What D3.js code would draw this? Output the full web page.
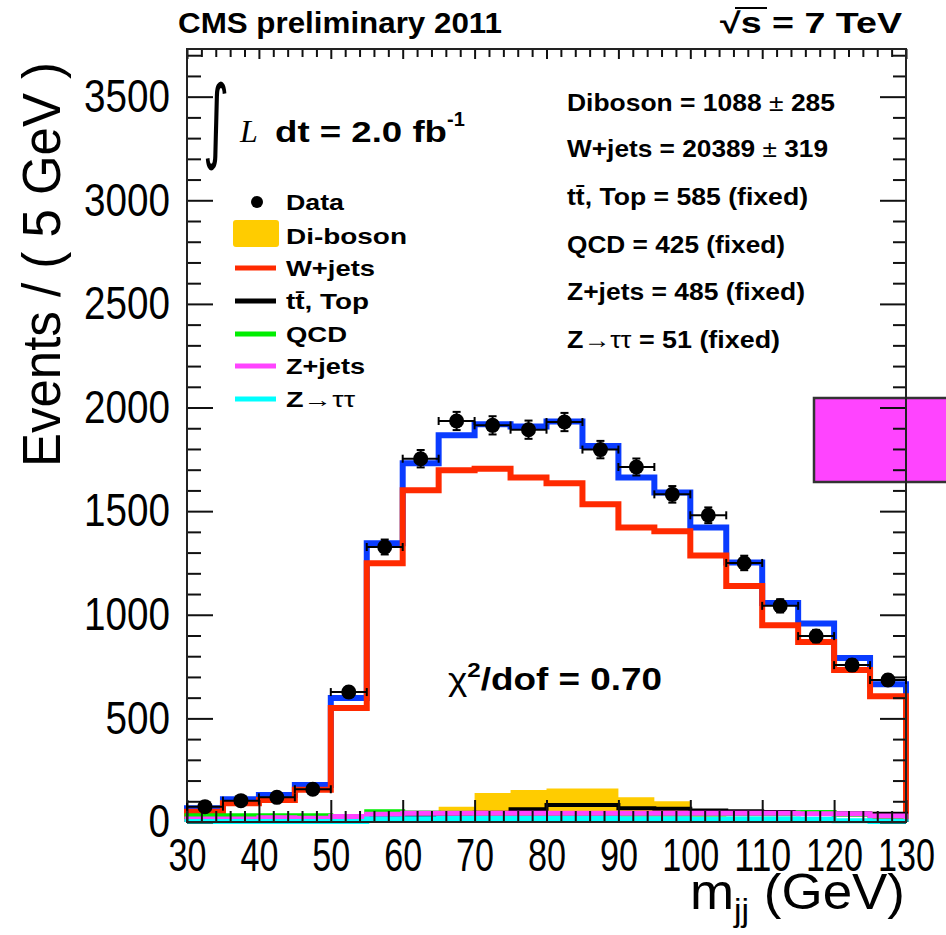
<!DOCTYPE html>
<html><head><meta charset="utf-8">
<script src="https://cdn.jsdelivr.net/npm/d3@7"></script>
<style>body{margin:0;background:#fff}svg{display:block}</style>
</head><body>
<script>
// ---- data ----
const binLo = [30,35,40,45,50,55,60,65,70,75,80,85,90,95,100,105,110,115,120,125];
const binWidth = 5;
const dataCounts = [74,103,119,158,627,1327,1753,1935,1914,1893,1930,1797,1713,1581,1480,1250,1043,897,757,685];
const dataErrors = [9,10,11,13,25,36,42,44,44,44,44,42,41,40,38,35,32,30,28,26];
const totalFit   = [66,110,130,179,598,1345,1731,1866,1919,1908,1932,1814,1662,1590,1421,1252,1057,958,791,665];
const wjets      = [50,90,106,156,550,1249,1601,1697,1705,1662,1635,1533,1421,1403,1286,1139,949,869,733,607];
const diboson    = [2,2,3,4,6,10,20,74,140,155,162,162,120,100,30,12,8,6,4,2];
const ttTop      = [8,10,12,14,18,22,28,35,45,62,82,82,66,64,56,52,48,46,42,40];
const qcd        = [30,30,30,30,22,50,44,42,40,40,40,40,40,40,40,40,40,46,38,25];
const zjets      = [14,14,20,18,26,38,42,42,42,42,42,42,42,42,42,42,42,40,40,29];
const ztautau    = [3,3,3,3,3,14,16,17,17,17,17,17,16,16,15,15,14,13,6,3];
const xMajorTicks = [30,40,50,60,70,80,90,100,110,120,130];
const yMajorTicks = [0,500,1000,1500,2000,2500,3000,3500];
const legendLabels = ["Data","Di-boson","W+jets","tt\u0304, Top","QCD","Z+jets","Z\u2192\u03c4\u03c4"];

const W = 946, H = 935;
const FONT = "'Liberation Sans', Arial, Helvetica, sans-serif";
const svg = d3.select("body").append("svg").attr("width", W).attr("height", H)
  .style("font-family", FONT);

const x = d3.scaleLinear().domain([30,130]).range([187,906]);
const y = d3.scaleLinear().domain([0,3730]).range([822,49]);

function stepPts(vals){
  const pts = [[binLo[0],0]];
  vals.forEach((v,i)=>{ pts.push([binLo[i],v]); pts.push([binLo[i]+binWidth,v]); });
  pts.push([binLo[binLo.length-1]+binWidth,0]);
  return pts;
}
const line = d3.line().x(d=>x(d[0])).y(d=>y(d[1]));

// magenta stray box (at right edge)
svg.append("rect").attr("x",814).attr("y",398).attr("width",140).attr("height",84)
  .attr("fill","#ff44ff").attr("stroke","#333").attr("stroke-width",2.5);

// diboson filled
const area = d3.area().x(d=>x(d[0])).y0(y(0)).y1(d=>y(d[1]));
svg.append("path").datum(stepPts(diboson)).attr("d",area).attr("fill","#ffcc00");

function drawStep(vals,color,w){
  svg.append("path").datum(stepPts(vals)).attr("d",line).attr("fill","none")
    .attr("stroke",color).attr("stroke-width",w).attr("stroke-linejoin","miter");
}
drawStep(totalFit,"#0a3cff",6);
drawStep(wjets,"#ff2a00",6);
drawStep(ttTop,"#000000",4);
drawStep(qcd,"#00ee00",5);
drawStep(zjets,"#ff44ff",5);
drawStep(ztautau,"#00ffff",5);

// axes
function styleAxis(g){ g.select(".domain").remove(); g.selectAll("line").attr("stroke","#111").attr("stroke-width",2); }
const xMinor = d3.range(30,131,2).filter(v=>v%10!==0);
const yMinor = d3.range(0,3701,100).filter(v=>v%500!==0);

const gb = svg.append("g").attr("transform",`translate(0,${y(0)})`)
  .call(d3.axisBottom(x).tickValues(xMajorTicks).tickSizeInner(-22).tickSizeOuter(0).tickPadding(16).tickFormat(d3.format("d")));
styleAxis(gb);
gb.selectAll("text").attr("font-size",46).attr("fill","#000").attr("font-family",FONT)
  .each(function(d){ d3.select(this).attr("textLength", String(d).length*19).attr("lengthAdjust","spacingAndGlyphs"); });
const gbm = svg.append("g").attr("transform",`translate(0,${y(0)})`)
  .call(d3.axisBottom(x).tickValues(xMinor).tickSizeInner(-11).tickSizeOuter(0).tickFormat(""));
styleAxis(gbm);
const gt = svg.append("g").attr("transform",`translate(0,${y(3730)})`)
  .call(d3.axisTop(x).tickValues(xMajorTicks).tickSizeInner(-10).tickSizeOuter(0).tickFormat(""));
styleAxis(gt);
const gtm = svg.append("g").attr("transform",`translate(0,${y(3730)})`)
  .call(d3.axisTop(x).tickValues(xMinor).tickSizeInner(-8).tickSizeOuter(0).tickFormat(""));
styleAxis(gtm);

const gl = svg.append("g").attr("transform",`translate(${x(30)},0)`)
  .call(d3.axisLeft(y).tickValues(yMajorTicks).tickSizeInner(-26).tickSizeOuter(0).tickPadding(17).tickFormat(d3.format("d")));
styleAxis(gl);
gl.selectAll("text").attr("font-size",46).attr("fill","#000").attr("font-family",FONT)
  .each(function(d){ d3.select(this).attr("textLength", String(d).length*21.5).attr("lengthAdjust","spacingAndGlyphs"); });
const glm = svg.append("g").attr("transform",`translate(${x(30)},0)`)
  .call(d3.axisLeft(y).tickValues(yMinor).tickSizeInner(-14).tickSizeOuter(0).tickFormat(""));
styleAxis(glm);
const gr = svg.append("g").attr("transform",`translate(${x(130)},0)`)
  .call(d3.axisRight(y).tickValues(yMajorTicks).tickSizeInner(-26).tickSizeOuter(0).tickFormat(""));
styleAxis(gr);
const grm = svg.append("g").attr("transform",`translate(${x(130)},0)`)
  .call(d3.axisRight(y).tickValues(yMinor).tickSizeInner(-13).tickSizeOuter(0).tickFormat(""));
styleAxis(grm);

// frame
svg.append("rect").attr("x",x(30)).attr("y",y(3730)).attr("width",x(130)-x(30)).attr("height",y(0)-y(3730))
  .attr("fill","none").attr("stroke","#222").attr("stroke-width",2);

// data points
const dg = svg.append("g");
dataCounts.forEach((v,i)=>{
  const cx = x(binLo[i]+binWidth/2), cy = y(v);
  const xl = x(binLo[i]), xr = x(binLo[i]+binWidth);
  const yt = y(v+dataErrors[i]), yb = y(v-dataErrors[i]);
  const segs = [[xl,cy,xr,cy],[xl,cy-4,xl,cy+4],[xr,cy-4,xr,cy+4],[cx,yt,cx,yb],[cx-4,yt,cx+4,yt],[cx-4,yb,cx+4,yb]];
  segs.forEach(s=>dg.append("line").attr("x1",s[0]).attr("y1",s[1]).attr("x2",s[2]).attr("y2",s[3])
    .attr("stroke","#000").attr("stroke-width",2));
  dg.append("circle").attr("cx",cx).attr("cy",cy).attr("r",7.5).attr("fill","#000");
});

// titles
svg.append("text").attr("x",178).attr("y",33).attr("font-size",29).attr("font-weight","bold")
  .attr("textLength",324).attr("lengthAdjust","spacingAndGlyphs").text("CMS preliminary 2011");
svg.append("text").attr("x",720).attr("y",33).attr("font-size",29).attr("font-weight","bold")
  .attr("textLength",182).attr("lengthAdjust","spacingAndGlyphs").text("\u221As = 7 TeV");
svg.append("line").attr("x1",735).attr("x2",767).attr("y1",8).attr("y2",8).attr("stroke","#000").attr("stroke-width",2);

// axis titles
const xt = svg.append("text").attr("x",690).attr("y",909).attr("font-size",50)
  .attr("textLength",215).attr("lengthAdjust","spacingAndGlyphs");
xt.append("tspan").text("m");
xt.append("tspan").attr("font-size",32).attr("dy",12).text("jj");
xt.append("tspan").attr("dy",-12).text(" (GeV)");
svg.append("text").attr("transform","translate(60,62) rotate(-90)").attr("text-anchor","end")
  .attr("font-size",54).attr("textLength",405).attr("lengthAdjust","spacingAndGlyphs").text("Events / ( 5 GeV )");

// luminosity
svg.append("text").attr("transform","translate(203,151) scale(0.55,1)").attr("font-size",92)
  .attr("font-family","'DejaVu Sans', sans-serif").text("\u222B");
svg.append("text").attr("x",240).attr("y",142).attr("font-size",32).attr("font-style","italic").attr("font-family","'Liberation Serif', serif").text("L");
svg.append("text").attr("x",275).attr("y",142).attr("font-size",30).attr("font-weight","bold")
  .attr("textLength",172).attr("lengthAdjust","spacingAndGlyphs").text("dt = 2.0 fb");
svg.append("text").attr("x",447).attr("y",126).attr("font-size",20).attr("font-weight","bold").text("-1");

// legend
const legBase = [210,244,276,309,342,374,407];
const legW = [58,121,89,83,61,79,69];
const legColors = [null,"#ffcc00","#ff2a00","#000000","#00ee00","#ff44ff","#00ffff"];
legendLabels.forEach((lab,i)=>{
  const b = legBase[i];
  const t = svg.append("text").attr("x",286).attr("y",b).attr("font-size",22).attr("font-weight","bold")
    .attr("textLength",legW[i]).attr("lengthAdjust","spacingAndGlyphs");
  if(lab.indexOf("\u2192")>=0){ t.append("tspan").text("Z"); t.append("tspan").attr("font-weight","normal").text("\u2192\u03c4\u03c4"); }
  else t.text(lab);
  if(i===0) svg.append("circle").attr("cx",257).attr("cy",b-8).attr("r",6).attr("fill","#000");
  else if(i===1) svg.append("rect").attr("x",233).attr("y",b-24).attr("width",46).attr("height",27).attr("rx",3).attr("fill",legColors[i]);
  else svg.append("line").attr("x1",235).attr("x2",276).attr("y1",b-8).attr("y2",b-8).attr("stroke",legColors[i]).attr("stroke-width",5);
});

// fit results
const stats = [
  [["Diboson = 1088 ",1],["\u00B1",0],[" 285",1]],
  [["W+jets = 20389 ",1],["\u00B1",0],[" 319",1]],
  [["tt\u0304, Top = 585 (fixed)",1]],
  [["QCD = 425 (fixed)",1]],
  [["Z+jets = 485 (fixed)",1]],
  [["Z",1],["\u2192\u03c4\u03c4",0],[" = 51 (fixed)",1]]
];
const statBase = [111,157,205,253,300,348];
const statW = [268,261,241,218,238,213];
stats.forEach((parts,i)=>{
  const t = svg.append("text").attr("x",567).attr("y",statBase[i]).attr("font-size",23.5)
    .attr("textLength",statW[i]).attr("lengthAdjust","spacingAndGlyphs");
  parts.forEach(p=>t.append("tspan").attr("font-weight",p[1]?"bold":"normal").text(p[0]));
});

// chi2
const ct = svg.append("text").attr("x",448).attr("y",690).attr("font-size",32).attr("font-weight","bold")
  .attr("textLength",214).attr("lengthAdjust","spacingAndGlyphs");
ct.append("tspan").attr("font-weight","normal").text("\u03C7");
ct.append("tspan").attr("font-size",21).attr("dy",-13).text("2");
ct.append("tspan").attr("dy",13).text("/dof = 0.70");
</script>
</body></html>
